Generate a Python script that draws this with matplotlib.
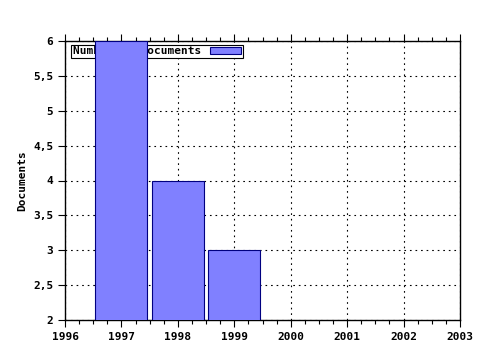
import numpy as np
import matplotlib.pyplot as plt
from matplotlib.ticker import MultipleLocator

years = [1997, 1998, 1999]
docs = [6, 4, 3]
xticks = [1996, 1997, 1998, 1999, 2000, 2001, 2002, 2003]
yticks = [2, 2.5, 3, 3.5, 4, 4.5, 5, 5.5, 6]
ylabels = ['2', '2,5', '3', '3,5', '4', '4,5', '5', '5,5', '6']

plt.rcParams['font.family'] = 'DejaVu Sans Mono'
plt.rcParams['font.weight'] = 'bold'
plt.rcParams['font.size'] = 8

fig = plt.figure(figsize=(4.8, 3.5), dpi=100)
ax = fig.add_axes([65 / 480, 1 - 320 / 350, 395 / 480, 279 / 350])

ax.set_axisbelow(True)
ax.grid(True, color='black', linestyle=(0, (1.5, 3.5)), linewidth=0.8)

bars = ax.bar(years, docs, width=0.92, color='#8080ff', edgecolor='#000080',
              linewidth=0.8, label='Number of documents', zorder=3)

ax.set_xlim(1996, 2003)
ax.set_ylim(2, 6)
ax.set_xticks(xticks)
ax.set_yticks(yticks)
ax.set_yticklabels(ylabels)
ax.xaxis.set_minor_locator(MultipleLocator(0.25))
ax.tick_params(axis='x', which='both', top=True, direction='out')
ax.tick_params(axis='x', which='major', length=5, width=0.8)
ax.tick_params(axis='x', which='minor', length=3, width=0.8)
ax.tick_params(axis='y', which='major', length=5, width=0.8)
ax.set_ylabel('Documents', fontweight='bold')
for s in ax.spines.values():
    s.set_linewidth(1.0)

leg = ax.legend(loc='upper left', bbox_to_anchor=(0.01, 0.995), frameon=True,
                fancybox=False, edgecolor='black', framealpha=1,
                borderpad=0.15, handlelength=2.8, handleheight=0.6,
                borderaxespad=0.2, markerfirst=False, handletextpad=0.8)
leg.get_frame().set_linewidth(0.8)
leg.set_zorder(2)

fig.savefig('out.png', dpi=100)
